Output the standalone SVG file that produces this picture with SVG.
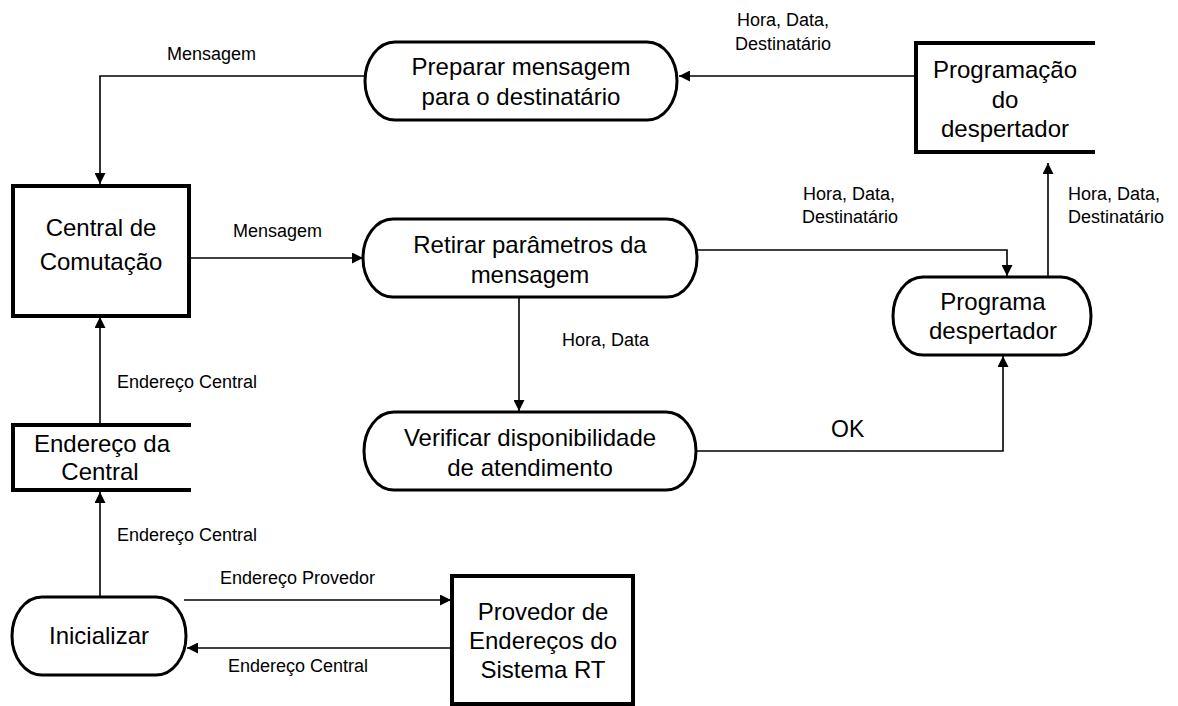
<svg xmlns="http://www.w3.org/2000/svg" width="1178" height="706" viewBox="0 0 1178 706">
  <defs>
    <marker id="arrow" viewBox="0 0 12 12" refX="12" refY="6" markerWidth="12" markerHeight="11" markerUnits="userSpaceOnUse" orient="auto">
      <path d="M0,0 L12,6 L0,12 Z" fill="#000"/>
    </marker>
    <style>
      .proc { fill: #fff; stroke: #000; stroke-width: 3; }
      .ent { fill: #fff; stroke: #000; stroke-width: 4; }
      .store { fill: none; stroke: #000; stroke-width: 4; }
      .flow { fill: none; stroke: #000; stroke-width: 1.6; }
      .big { font-family: "Liberation Sans", Arial, sans-serif; font-size: 24px; fill: #000; text-anchor: middle; }
      .lbl { font-family: "Liberation Sans", Arial, sans-serif; font-size: 18px; fill: #000; }
      .ok { font-family: "Liberation Sans", Arial, sans-serif; font-size: 23px; fill: #000; }
    </style>
  </defs>
  <rect width="1178" height="706" fill="#fff"/>

  <!-- data flows -->
  <g id="connectors">
    <path class="flow" d="M916,76 L679,76" marker-end="url(#arrow)"/>
    <path class="flow" d="M365,76 L100,76 L100,184" marker-end="url(#arrow)"/>
    <path class="flow" d="M189,258 L363,258" marker-end="url(#arrow)"/>
    <path class="flow" d="M697,250 L1007,250 L1007,276" marker-end="url(#arrow)"/>
    <path class="flow" d="M1048,277 L1048,163" marker-end="url(#arrow)"/>
    <path class="flow" d="M519,297 L519,411" marker-end="url(#arrow)"/>
    <path class="flow" d="M696,451 L1003,451 L1003,356" marker-end="url(#arrow)"/>
    <path class="flow" d="M100,425 L100,317" marker-end="url(#arrow)"/>
    <path class="flow" d="M100,597 L100,492" marker-end="url(#arrow)"/>
    <path class="flow" d="M184,600 L451,600" marker-end="url(#arrow)"/>
    <path class="flow" d="M451,648 L187,648" marker-end="url(#arrow)"/>

    <text class="lbl" x="167" y="60">Mensagem</text>
    <text class="lbl" x="737" y="26">Hora, Data,</text>
    <text class="lbl" x="735" y="50">Destinatário</text>
    <text class="lbl" x="233" y="237">Mensagem</text>
    <text class="lbl" x="803" y="200">Hora, Data,</text>
    <text class="lbl" x="802" y="223">Destinatário</text>
    <text class="lbl" x="1068" y="200">Hora, Data,</text>
    <text class="lbl" x="1068" y="223">Destinatário</text>
    <text class="lbl" x="562" y="346">Hora, Data</text>
    <text class="ok" x="831" y="437">OK</text>
    <text class="lbl" x="117" y="388">Endereço Central</text>
    <text class="lbl" x="117" y="541">Endereço Central</text>
    <text class="lbl" x="220" y="584">Endereço Provedor</text>
    <text class="lbl" x="228" y="672">Endereço Central</text>
  </g>

  <g id="preparar">
    <rect class="proc" x="365" y="42" width="312" height="78" rx="30" ry="39"/>
    <text class="big" x="521" y="75">Preparar mensagem</text>
    <text class="big" x="521" y="105">para o destinatário</text>
  </g>

  <g id="programacao">
    <path class="store" d="M1095,43 L916,43 L916,152 L1095,152"/>
    <text class="big" x="1005" y="78">Programação</text>
    <text class="big" x="1005" y="108">do</text>
    <text class="big" x="1005" y="137">despertador</text>
  </g>

  <g id="central">
    <rect class="ent" x="13" y="186" width="176" height="130"/>
    <text class="big" x="101" y="236">Central de</text>
    <text class="big" x="101" y="270">Comutação</text>
  </g>

  <g id="retirar">
    <rect class="proc" x="363" y="219" width="334" height="78" rx="30" ry="39"/>
    <text class="big" x="530" y="253">Retirar parâmetros da</text>
    <text class="big" x="530" y="283">mensagem</text>
  </g>

  <g id="programa">
    <rect class="proc" x="893" y="277" width="198" height="78" rx="30" ry="39"/>
    <text class="big" x="993" y="310">Programa</text>
    <text class="big" x="993" y="339">despertador</text>
  </g>

  <g id="verificar">
    <rect class="proc" x="364" y="412" width="332" height="78" rx="30" ry="39"/>
    <text class="big" x="530" y="446">Verificar disponibilidade</text>
    <text class="big" x="530" y="476">de atendimento</text>
  </g>

  <g id="endereco-central">
    <path class="store" d="M191,425 L13,425 L13,490 L191,490"/>
    <text class="big" x="102" y="452">Endereço da</text>
    <text class="big" x="100" y="480">Central</text>
  </g>

  <g id="inicializar">
    <rect class="proc" x="12" y="597" width="174" height="78" rx="30" ry="39"/>
    <text class="big" x="99" y="644">Inicializar</text>
  </g>

  <g id="provedor">
    <rect class="ent" x="452" y="576" width="181" height="128"/>
    <text class="big" x="543" y="620">Provedor de</text>
    <text class="big" x="543" y="649">Endereços do</text>
    <text class="big" x="543" y="678">Sistema RT</text>
  </g>
</svg>
